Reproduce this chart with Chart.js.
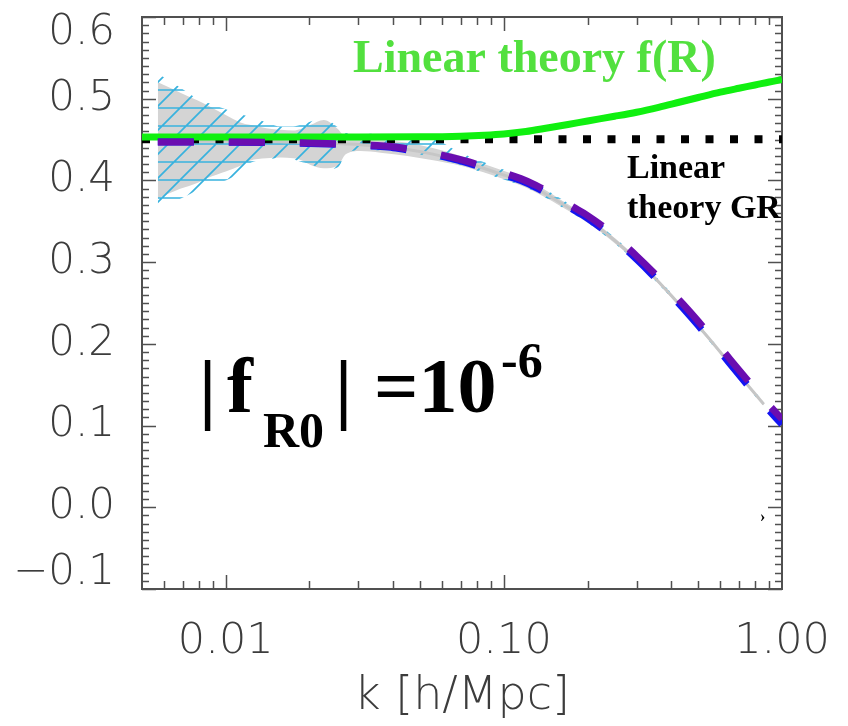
<!DOCTYPE html>
<html>
<head>
<meta charset="utf-8">
<title>Growth rate f(k)</title>
<script src="https://cdn.jsdelivr.net/npm/chart.js@4.4.0/dist/chart.umd.min.js"></script>
<style>
  html, body { margin: 0; padding: 0; background: #fff; }
  #wrap { width: 848px; height: 726px; position: relative; }
</style>
</head>
<body>
<div id="wrap"><canvas id="growthChart"></canvas></div>
<script>
// linear theory, f(R)
var kLinear = [0.005, 0.01, 0.02, 0.03, 0.05, 0.07, 0.085, 0.1, 0.12, 0.145, 0.17, 0.2, 0.25, 0.3, 0.36, 0.43, 0.5, 0.6, 0.7, 0.8, 0.9, 1.0];
var fRLinear = [0.453, 0.453, 0.453, 0.453, 0.4533, 0.4542, 0.4553, 0.4568, 0.4598, 0.4645, 0.4685, 0.4728, 0.4785, 0.4835, 0.4895, 0.496, 0.5015, 0.508, 0.5128, 0.5168, 0.5205, 0.5235];

// linear theory, GR
var kGR = [0.005, 1.0];
var grLinear = [0.4505, 0.4505];

// simulation measurements
var kSim = [0.0057, 0.008, 0.01, 0.015, 0.02, 0.025, 0.03, 0.035, 0.04, 0.047, 0.055, 0.065, 0.075, 0.087, 0.1, 0.115, 0.13, 0.15, 0.175, 0.2, 0.23, 0.26, 0.3, 0.34, 0.39, 0.44, 0.5, 0.57, 0.65, 0.74, 0.86, 1.0];
var simPurple = [0.447, 0.447, 0.447, 0.4465, 0.4458, 0.445, 0.444, 0.4427, 0.4412, 0.4375, 0.4335, 0.4282, 0.4226, 0.4158, 0.4092, 0.4022, 0.3942, 0.3827, 0.3686, 0.357, 0.3422, 0.3268, 0.3076, 0.2896, 0.268, 0.2488, 0.2275, 0.2047, 0.1813, 0.1583, 0.1321, 0.108];
var simBlue = [0.447, 0.447, 0.4468, 0.4462, 0.4452, 0.4442, 0.4431, 0.4417, 0.4401, 0.4363, 0.4322, 0.4266, 0.4208, 0.4138, 0.407, 0.3998, 0.3916, 0.3798, 0.3655, 0.3536, 0.3385, 0.3229, 0.3035, 0.2852, 0.2634, 0.244, 0.2224, 0.1993, 0.1757, 0.1525, 0.1258, 0.1015];

// model curve and its scatter bands
var kBand = [0.0057, 0.0069, 0.0079, 0.0086, 0.01, 0.0113, 0.0122, 0.014, 0.0158, 0.0175, 0.0186, 0.0202, 0.0225, 0.0253, 0.027, 0.0305, 0.036, 0.045, 0.055, 0.07, 0.09, 0.12, 0.16, 0.21, 0.27, 0.34, 0.43, 0.54, 0.68, 0.86];
var modelLine = [0.448, 0.448, 0.448, 0.448, 0.448, 0.448, 0.448, 0.4475, 0.4472, 0.447, 0.4468, 0.4465, 0.446, 0.4452, 0.4447, 0.4437, 0.4418, 0.4378, 0.4325, 0.4238, 0.4118, 0.3963, 0.3725, 0.3469, 0.3168, 0.2846, 0.2473, 0.2086, 0.1673, 0.1261];
var grayUpper = [0.52, 0.507, 0.498, 0.492, 0.48, 0.471, 0.468, 0.464, 0.462, 0.461, 0.463, 0.468, 0.474, 0.463, 0.453, 0.452, 0.45, 0.446, 0.44, 0.43, 0.417, 0.4013, 0.3765, 0.3504, 0.3198, 0.2871, 0.2498, 0.2106, 0.1691, 0.1276];
var grayLower = [0.378, 0.39, 0.397, 0.403, 0.411, 0.418, 0.424, 0.427, 0.428, 0.427, 0.425, 0.419, 0.415, 0.418, 0.432, 0.436, 0.434, 0.43, 0.425, 0.418, 0.407, 0.3913, 0.3685, 0.3434, 0.3138, 0.2821, 0.2448, 0.2066, 0.1655, 0.1246];
var hatchUpper = [0.531, 0.513, 0.5, 0.495, 0.487, 0.481, 0.478, 0.471, 0.466, 0.466, 0.468, 0.472, 0.476, 0.465, 0.458, 0.457, 0.457, 0.456, 0.452, 0.434, 0.419, 0.4025, 0.378, 0.351, 0.3205, 0.2875, 0.2505, 0.2115, 0.17, 0.1285];
var hatchLower = [0.367, 0.378, 0.388, 0.394, 0.4, 0.41, 0.421, 0.425, 0.428, 0.426, 0.423, 0.42, 0.413, 0.416, 0.432, 0.437, 0.437, 0.435, 0.428, 0.419, 0.406, 0.3915, 0.368, 0.343, 0.3135, 0.2815, 0.2445, 0.2055, 0.164, 0.1235];

// axis ticks
var xTicks = [0.01, 0.1, 1.0];
var xTickLabels = ['0.01', '0.10', '1.00'];
var yTicks = [-0.1, 0.0, 0.1, 0.2, 0.3, 0.4, 0.5, 0.6];
var yTickLabels = ['\u22120.1', '0.0', '0.1', '0.2', '0.3', '0.4', '0.5', '0.6'];

var axisColor = '#505050';
var labelColor = '#3c3c3c';

function points(xs, ys) {
    return xs.map(function (x, i) {
        return {x: x, y: ys[i]};
    });
}

// cyan cross-hatch: horizontal rules plus "/" diagonals
function makeHatch() {
    var c = document.createElement('canvas');
    c.width = 24;
    c.height = 72;
    var g = c.getContext('2d');
    g.strokeStyle = '#38b2de';
    g.lineWidth = 1.6;
    g.beginPath();
    for (var yy = 0; yy <= 72; yy += 18) {
        g.moveTo(0, yy);
        g.lineTo(24, yy);
    }
    for (var n = 0; n <= 4; n++) {
        g.moveTo(-2, 24 * n + 2);
        g.lineTo(26, 24 * n - 26);
    }
    g.stroke();
    return g.createPattern(c, 'repeat');
}

function lineSet(data, color, width, dash) {
    return {
        data: data,
        borderColor: color,
        borderWidth: width,
        borderDash: dash || [],
        borderCapStyle: 'butt',
        pointRadius: 0,
        fill: false,
        cubicInterpolationMode: 'monotone'
    };
}

function bandSet(data, fillColor, fillTo) {
    return {
        data: data,
        borderColor: 'rgba(0,0,0,0)',
        borderWidth: 0,
        backgroundColor: fillColor,
        pointRadius: 0,
        fill: fillTo,
        cubicInterpolationMode: 'monotone'
    };
}

// box with inward ticks on all four sides
var frameTicks = {
    id: 'frameTicks',
    beforeDatasetsDraw: function (chart) {
        var ctx = chart.ctx;
        var a = chart.chartArea;
        var xs = chart.scales.x;
        var ys = chart.scales.y;
        ctx.save();
        ctx.strokeStyle = axisColor;
        ctx.lineWidth = 1.5;
        ctx.beginPath();
        var dec, m, v, px, len;
        for (dec = 0.001; dec <= 1; dec *= 10) {
            for (m = 1; m <= 9; m++) {
                v = m * dec;
                if (v <= xs.min * 1.0001 || v >= xs.max * 0.9999) continue;
                px = Math.round(xs.getPixelForValue(v)) + 0.5;
                len = m === 1 ? 14 : 8;
                ctx.moveTo(px, a.bottom);
                ctx.lineTo(px, a.bottom - len);
                ctx.moveTo(px, a.top);
                ctx.lineTo(px, a.top + len);
            }
        }
        for (var i = -10; i <= 60; i++) {
            px = Math.round(ys.getPixelForValue(i / 100)) + 0.5;
            len = i % 10 === 0 ? 14 : 7;
            ctx.moveTo(a.left, px);
            ctx.lineTo(a.left + len, px);
            ctx.moveTo(a.right, px);
            ctx.lineTo(a.right - len, px);
        }
        ctx.stroke();
        ctx.lineWidth = 2;
        ctx.strokeRect(a.left, a.top, a.right - a.left, a.bottom - a.top);
        ctx.restore();
    }
};

// in-plot annotations
var plotLabels = {
    id: 'plotLabels',
    afterDatasetsDraw: function (chart) {
        var ctx = chart.ctx;
        ctx.save();
        ctx.textAlign = 'left';
        ctx.textBaseline = 'alphabetic';

        ctx.fillStyle = '#52e03e';
        ctx.font = 'bold 46px "Liberation Serif"';
        ctx.fillText('Linear theory f(R)', 353, 72);

        ctx.fillStyle = '#000';
        ctx.font = 'bold 34px "Liberation Serif"';
        ctx.fillText('Linear', 627, 178);
        ctx.fillText('theory GR', 627, 218);

        var big = 'bold 78px "Liberation Serif"';
        var small = 'bold 50px "Liberation Serif"';
        var parts = [
            ['|', big, 199, 414],
            ['f', big, 227, 412],
            ['R0', small, 263, 447],
            ['|', big, 335, 414],
            ['=10', big, 374, 412],
            ['-6', small, 501, 377]
        ];
        parts.forEach(function (p) {
            ctx.font = p[1];
            ctx.fillText(p[0], p[2], p[3]);
        });

        ctx.font = 'bold 16px "Liberation Serif"';
        ctx.fillText('\u203a', 760, 522);
        ctx.restore();
    }
};

var ctx = document.getElementById('growthChart');

new Chart(ctx, {
    type: 'line',
    data: {
        datasets: [
            lineSet(points(kSim, simPurple), '#6a0db0', 7, [36, 35]),
            lineSet(points(kSim, simBlue), '#1414f2', 7, [36, 35]),
            lineSet(points(kLinear, fRLinear), '#10f010', 7),
            lineSet(points(kGR, grLinear), '#000', 8, [8, 16.5]),
            lineSet(points(kBand, modelLine), '#c6c6c6', 3),
            bandSet(points(kBand, hatchUpper), makeHatch(), '+1'),
            bandSet(points(kBand, hatchLower), 'rgba(0,0,0,0)', false),
            bandSet(points(kBand, grayUpper), '#d4d4d4', '+1'),
            bandSet(points(kBand, grayLower), 'rgba(0,0,0,0)', false)
        ]
    },
    options: {
        responsive: true,
        maintainAspectRatio: false,
        animation: false,
        events: [],
        layout: {padding: {left: 0, right: 66, top: 17, bottom: 0}},
        plugins: {
            legend: {display: false},
            tooltip: {enabled: false}
        },
        scales: {
            x: {
                type: 'logarithmic',
                min: 0.005,
                max: 1.0,
                grid: {display: false},
                border: {display: false},
                afterBuildTicks: function (scale) {
                    scale.ticks = xTicks.map(function (v) { return {value: v, major: true}; });
                },
                afterFit: function (scale) {
                    scale.height = 137;
                    scale.paddingLeft = 0;
                    scale.paddingRight = 0;
                },
                ticks: {
                    autoSkip: false,
                    maxRotation: 0,
                    padding: 19,
                    color: labelColor,
                    font: {family: 'DejaVu Sans', size: 43, weight: 200},
                    callback: function (value, index) {
                        return xTickLabels[index];
                    }
                },
                title: {
                    display: true,
                    text: 'k [h/Mpc]',
                    color: labelColor,
                    font: {family: 'DejaVu Sans', size: 46, weight: 200},
                    padding: {top: 0, bottom: 1}
                }
            },
            y: {
                min: -0.1,
                max: 0.6,
                grid: {display: false},
                border: {display: false},
                afterBuildTicks: function (scale) {
                    scale.ticks = yTicks.map(function (v) { return {value: v}; });
                },
                afterFit: function (scale) {
                    scale.width = 142;
                    scale.paddingTop = 0;
                    scale.paddingBottom = 0;
                },
                ticks: {
                    autoSkip: false,
                    padding: 19,
                    color: labelColor,
                    font: {family: 'DejaVu Sans', size: 42, weight: 200, lineHeight: 0.75},
                    callback: function (value, index) {
                        var txt = yTickLabels[index];
                        // end labels sit inside the frame
                        if (index === 0) return [txt, ''];
                        if (index === yTicks.length - 1) return ['', txt];
                        return txt;
                    }
                }
            }
        }
    },
    plugins: [frameTicks, plotLabels]
});
</script>
</body>
</html>
